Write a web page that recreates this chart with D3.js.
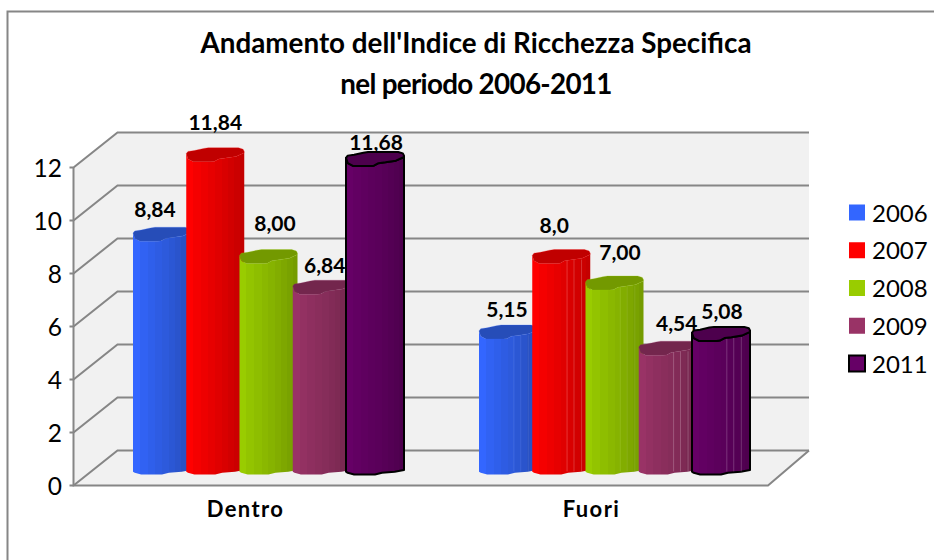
<!DOCTYPE html>
<html>
<head>
<meta charset="utf-8">
<script src="https://cdn.jsdelivr.net/npm/d3@7/dist/d3.min.js"></script>
<style>
	html, body { margin: 0; padding: 0; background: #fff; }
	svg { display: block; font-family: Lato, "Open Sans", sans-serif; }
</style>
</head>
<body>
<script>
var categories = ["Dentro", "Fuori"];
var years = ["2006", "2007", "2008", "2009", "2011"];
var dentro = [8.84, 11.84, 8.00, 6.84, 11.68];
var fuori = [5.15, 8.0, 7.00, 4.54, 5.08];
var dentroLabels = ["8,84", "11,84", "8,00", "6,84", "11,68"];
var fuoriLabels = ["5,15", "8,0", "7,00", "4,54", "5,08"];
var yTicks = [0, 2, 4, 6, 8, 10, 12];
var titleLines = ["Andamento dell'Indice di Ricchezza Specifica", "nel periodo 2006-2011"];

var lightColors = ["#3366ff", "#ff0000", "#99cc00", "#993366", "#660066"];
var darkColors = ["#264db8", "#c00000", "#739900", "#73264d", "#4d004d"];

var width = 934, height = 560;
var depthX = 44, depthY = -35;	// offset of the back wall
var midY = -17;					// bars stand halfway on the floor
var barW = 58, capH = 14;

var svg = d3.select("body").append("svg")
	.attr("width", width)
	.attr("height", height);

var x = d3.scaleBand().domain(categories).range([73.5, 765.5]);
var y = d3.scaleLinear().domain([0, 12]).range([485.5, 167.5]);
var xSeries = d3.scalePoint().domain(years).range([-113.5, 99.5]);
var yLegend = d3.scalePoint().domain(years).range([212.5, 363.5]);

// chart frame, cut by the window on the right and bottom
svg.append("path")
	.attr("d", "M7.5 " + height + " V11.5 H" + width)
	.attr("fill", "none")
	.attr("stroke", "#868686")
	.attr("stroke-width", 2);

// walls and floor
var x0 = x.range()[0], x1 = 768, backX = x0 + depthX, backR = 809;
svg.append("polygon")
	.attr("points", [[x0, y(0)], [x0, y(12)], [backX, y(12) + depthY], [backR, y(12) + depthY], [backR, y(0) + depthY], [x1, y(0)]].join(" "))
	.attr("fill", "#f1f1f1");

var grid = svg.append("g").attr("fill", "none").attr("stroke", "#868686").attr("stroke-width", 2);
yTicks.forEach(function(t){
	grid.append("path")
		.attr("d", "M" + (x0 - 4) + " " + y(t) + " H" + x0 + " L" + backX + " " + (y(t) + depthY) + " H" + backR);
});
grid.append("path").attr("d", "M" + x0 + " " + y(12) + " V" + y(0) + " H" + x1 + " L" + backR + " " + (y(0) + depthY));

svg.append("g").selectAll("text")
	.data(yTicks)
	.enter().append("text")
	.attr("x", 62)
	.attr("y", function(d){ return y(d) + 9; })
	.attr("text-anchor", "end")
	.attr("font-size", 24.5)
	.attr("fill", "#000")
	.text(function(d){ return d; });

// title
svg.append("g").selectAll("text")
	.data(titleLines)
	.enter().append("text")
	.attr("x", 476)
	.attr("y", function(d, i){ return 53 + i * 41; })
	.attr("text-anchor", "middle")
	.attr("font-size", 27.8)
	.attr("letter-spacing", function(d, i){ return i === 1 ? -0.7 : 0; })
	.attr("font-weight", 700)
	.attr("fill", "#000")
	.text(function(d){ return d; });

// stepped horizontal shading of the bars
var defs = svg.append("defs");
function barGradient(i){
	var grad = defs.append("linearGradient")
		.attr("id", "bar-" + i)
		.attr("x1", 0).attr("x2", 1).attr("y1", 0).attr("y2", 0);
	var mix = d3.interpolateRgb(lightColors[i], darkColors[i]);
	var stops = [0, 0.12, 0.25, 0.38, 0.5, 0.62, 0.72, 0.82, 0.92, 1];
	stops.forEach(function(s, k){
		if (k === stops.length - 1) return;
		var c = mix(k === 0 ? 0 : (k + 0.5) / (stops.length - 1));
		grad.append("stop").attr("offset", s).attr("stop-color", c);
		grad.append("stop").attr("offset", stops[k + 1]).attr("stop-color", c);
	});
}
years.forEach(function(d, i){ barGradient(i); });

// outline of the lumpy cylinder, as fractions of bar width and cap height
var capBack = [[0, 0.42], [0.03, 0.26], [0.14, 0.2], [0.3, 0.05], [0.38, 0], [0.9, 0], [0.98, 0.1], [1, 0.26], [1, 0.36]];
var capFront = [[1, 0.36], [0.86, 0.62], [0.68, 0.74], [0.56, 0.8], [0.48, 0.98], [0.42, 1], [0.12, 1], [0.03, 0.8], [0, 0.42]];
var baseFront = [[0, 0.8], [0.03, 0.88], [0.14, 1], [0.5, 1], [0.62, 0.88], [0.84, 0.8], [1, 0.68]];
var outline = d3.line();

function capPoints(points, px, py){
	return points.map(function(p){ return [px + p[0] * barW, py + p[1] * capH]; });
}

function drawBar(g, i, category, value){
	var px = x(category) + x.bandwidth() / 2 + xSeries(years[i]);
	var topY = y(value) + midY - capH / 2;
	var baseY = y(0) + midY - capH / 2 - 1;
	var isLast = i === years.length - 1;
	var bar = g.append("g");

	var body = outline(capPoints(baseFront, px, baseY)) +
		outline(capPoints(capFront, px, topY)).replace("M", "L") + "Z";

	bar.append("path")
		.attr("d", body)
		.attr("fill", "url(#bar-" + i + ")")
		.attr("stroke", isLast ? "#000" : "none")
		.attr("stroke-linejoin", "round")
		.attr("stroke-width", 2);

	// thin facet lines only show on the shorter group
	if (category === "Fuori") {
		[0.6, 0.72, 0.85].forEach(function(f){
			bar.append("line")
				.attr("x1", px + f * barW).attr("x2", px + f * barW)
				.attr("y1", topY + capH * 0.72)
				.attr("y2", baseY + capH * 0.78)
				.attr("stroke", "#fff")
				.attr("stroke-opacity", i === 0 || i === 2 ? 0.08 : 0.2);
		});
	}

	bar.append("path")
		.attr("d", outline(capPoints(capBack, px, topY)) + outline(capPoints(capFront, px, topY)).replace("M", "L") + "Z")
		.attr("fill", darkColors[i])
		.attr("stroke", isLast ? "#000" : lightColors[i])
		.attr("stroke-opacity", isLast ? 1 : 0.35)
		.attr("stroke-linejoin", "round")
		.attr("stroke-width", isLast ? 2 : 0.7);

	return { x: px + barW / 2, y: topY };
}

// offsets of the labels are the ones the chart author dragged by hand
var labelNudgeDentro = [[-7, -10], [0, -18], [6.5, -18.5], [3, -7], [1, -2]];
var labelNudgeFuori = [[-1, -8], [-7, -16.5], [5.5, -16], [9, -10], [1, -8]];

function drawGroup(category, values, labels, nudges){
	var g = svg.append("g");
	var tops = values.map(function(v, i){ return drawBar(g, i, category, v); });
	g.selectAll("text.value")
		.data(labels)
		.enter().append("text")
		.attr("class", "value")
		.attr("x", function(d, i){ return tops[i].x + nudges[i][0]; })
		.attr("y", function(d, i){ return tops[i].y + nudges[i][1]; })
		.attr("text-anchor", "middle")
		.attr("font-size", 21)
		.attr("font-weight", 700)
		.attr("fill", "#000")
		.text(function(d){ return d; });
}
drawGroup("Dentro", dentro, dentroLabels, labelNudgeDentro);
drawGroup("Fuori", fuori, fuoriLabels, labelNudgeFuori);

// category labels
svg.append("g").selectAll("text")
	.data(categories)
	.enter().append("text")
	.attr("x", function(d){ return x(d) + x.bandwidth() / 2 - 1; })
	.attr("y", 516.5)
	.attr("text-anchor", "middle")
	.attr("font-size", 22)
	.attr("letter-spacing", 1.4)
	.attr("font-weight", 700)
	.attr("fill", "#000")
	.text(function(d){ return d; });

// legend
var legend = svg.append("g").selectAll("g")
	.data(years)
	.enter().append("g")
	.attr("transform", function(d){ return "translate(849," + yLegend(d) + ")"; });
legend.append("rect")
	.attr("y", -8)
	.attr("width", 16)
	.attr("height", 16)
	.attr("fill", function(d, i){ return lightColors[i]; })
	.attr("stroke", function(d, i){ return i === 4 ? "#000" : "none"; })
	.attr("stroke-width", 2);
legend.append("text")
	.attr("x", 23)
	.attr("y", 9)
	.attr("font-size", 24)
	.attr("fill", "#000")
	.text(function(d){ return d; });
</script>
</body>
</html>
